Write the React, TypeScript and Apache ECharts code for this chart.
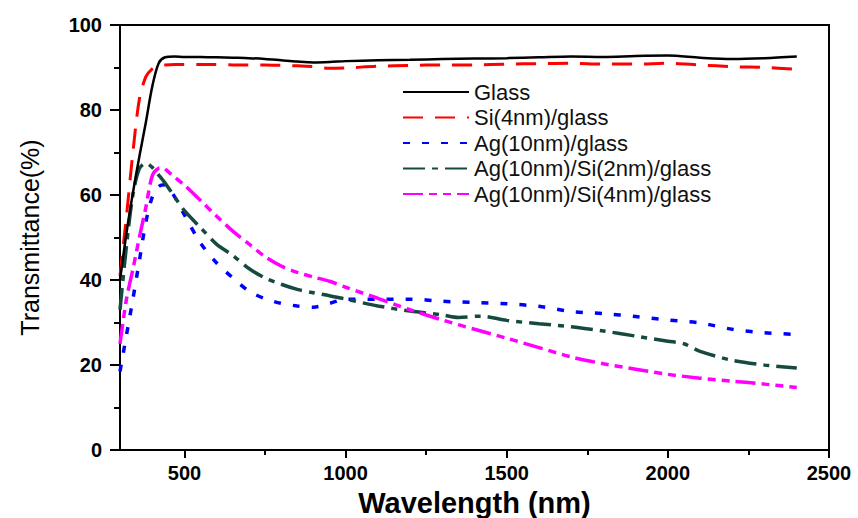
import React, { useEffect, useRef } from "react";
import * as echarts from "echarts";

const seriesNames = [
  "Glass",
  "Si(4nm)/glass",
  "Ag(10nm)/glass",
  "Ag(10nm)/Si(2nm)/glass",
  "Ag(10nm)/Si(4nm)/glass",
];

const xTickValues = [500, 1000, 1500, 2000, 2500];
const xMinorTickValues = [750, 1250, 1750, 2250];

const glassX = [300, 320, 340, 360, 380, 400, 420, 440, 470, 500, 550, 600, 650, 700, 750, 800, 850, 900, 950, 1000, 1100, 1200, 1300, 1400, 1500, 1600, 1700, 1800, 1900, 2000, 2100, 2200, 2300, 2400];
const glassT = [40, 51, 60.5, 69, 77, 85.5, 91, 92.4, 92.6, 92.5, 92.5, 92.4, 92.3, 92.2, 92.0, 91.7, 91.4, 91.2, 91.3, 91.5, 91.7, 91.8, 92.0, 92.1, 92.2, 92.4, 92.6, 92.5, 92.7, 92.8, 92.3, 92.0, 92.2, 92.6];

const siX = [300, 320, 340, 360, 380, 400, 420, 440, 470, 500, 550, 600, 650, 700, 750, 800, 850, 900, 950, 1000, 1100, 1200, 1300, 1400, 1500, 1600, 1700, 1800, 1900, 2000, 2100, 2200, 2300, 2400];
const siT = [41, 55, 70, 82.5, 87.8, 89.7, 90.4, 90.6, 90.7, 90.7, 90.7, 90.7, 90.6, 90.6, 90.6, 90.5, 90.4, 90.2, 89.8, 89.9, 90.3, 90.5, 90.6, 90.6, 90.8, 90.9, 91.0, 90.8, 90.8, 91.0, 90.6, 90.2, 90.0, 89.6];

const agX = [300, 320, 340, 360, 380, 400, 420, 440, 470, 500, 550, 600, 650, 700, 750, 800, 850, 900, 950, 1000, 1100, 1200, 1300, 1400, 1500, 1600, 1700, 1800, 1900, 2000, 2100, 2200, 2300, 2400];
const agT = [18.5, 27, 35.5, 44.5, 53.5, 59.5, 62, 62.4, 59.5, 55.3, 48.7, 44, 40.5, 37.4, 35.6, 34.5, 33.9, 33.6, 34.5, 35.5, 35.5, 35.5, 35.0, 34.7, 34.4, 33.8, 32.6, 32.1, 31.4, 30.6, 29.9, 28.4, 27.6, 27.2];

const agSi2X = [300, 320, 340, 360, 380, 400, 420, 440, 470, 500, 550, 600, 650, 700, 750, 800, 850, 900, 950, 1000, 1100, 1200, 1300, 1350, 1420, 1500, 1600, 1700, 1800, 1900, 2000, 2050, 2100, 2200, 2300, 2400];
const agSi2T = [33, 48, 60, 66.2, 67.5, 66.5, 64.7, 62.8, 59.5, 56.3, 52.3, 48.4, 45.8, 42.7, 40.5, 39.0, 37.8, 37.0, 36.3, 35.5, 33.9, 32.7, 31.8, 31.2, 31.5, 30.5, 29.7, 29.0, 28.0, 26.8, 25.6, 25.0, 23.2, 21.1, 20.0, 19.3];

const agSi4X = [300, 320, 340, 360, 380, 400, 420, 430, 460, 500, 550, 600, 650, 700, 750, 800, 850, 900, 950, 1000, 1100, 1200, 1300, 1400, 1500, 1600, 1700, 1800, 1900, 2000, 2100, 2200, 2300, 2400];
const agSi4T = [25, 35.5, 42.5, 50, 57, 64.5, 66.3, 66.4, 64.8, 62.3, 58.7, 55, 51.5, 48.5, 45.5, 43.3, 41.8, 40.7, 39.7, 38.3, 35.7, 33, 30.6, 28.4, 26.3, 24.1, 21.9, 20.3, 19, 17.8, 16.9, 16.2, 15.5, 14.7];

const FONT = "'Liberation Sans', Arial, Helvetica, sans-serif";

function pairs(xs: number[], ys: number[]) {
  return xs.map((x, i) => [x, ys[i]]);
}

export default function App() {
  const ref = useRef<HTMLDivElement>(null);

  useEffect(() => {
    if (!ref.current) return;
    const chart = echarts.init(ref.current, undefined, { renderer: "svg" });

    const lineSeries = (
      name: string,
      data: number[][],
      color: string,
      width: number,
      type: any,
      z: number
    ) => ({
      type: "line",
      name,
      data,
      xAxisIndex: 0,
      yAxisIndex: 0,
      symbol: "none",
      showSymbol: false,
      smooth: 0.3,
      z,
      lineStyle: { color, width, type, cap: "butt" },
      itemStyle: { color },
    });

    chart.setOption({
      animation: false,
      backgroundColor: "#ffffff",
      textStyle: { fontFamily: FONT },
      grid: [
        {
          left: 120,
          right: 29,
          top: 25,
          bottom: 68,
          containLabel: false,
          outerBoundsMode: "none",
          show: true,
          borderColor: "#000",
          borderWidth: 2,
          backgroundColor: "transparent",
        },
        {
          left: 120,
          right: 29,
          top: 25,
          bottom: 68,
          containLabel: false,
          outerBoundsMode: "none",
          show: false,
        },
      ],
      xAxis: [
        {
          type: "value",
          gridIndex: 0,
          min: 300,
          max: 2500,
          name: "Wavelength (nm)",
          nameLocation: "middle",
          nameGap: 38,
          nameTextStyle: {
            fontFamily: FONT,
            fontSize: 29,
            fontWeight: "bold",
            color: "#000",
          },
          axisLine: { show: true, lineStyle: { color: "#000", width: 2 } },
          axisTick: {
            show: true,
            customValues: xTickValues,
            length: 8,
            inside: false,
            lineStyle: { color: "#000", width: 2 },
          },
          axisLabel: {
            customValues: xTickValues,
            formatter: (v: number) => String(v),
            margin: 13,
            fontFamily: FONT,
            fontSize: 20,
            fontWeight: "bold",
            color: "#000",
          },
          splitLine: { show: false },
        },
        {
          type: "value",
          gridIndex: 1,
          min: 300,
          max: 2500,
          axisLine: { show: false },
          axisTick: {
            show: true,
            customValues: xMinorTickValues,
            length: 5,
            inside: false,
            lineStyle: { color: "#000", width: 2 },
          },
          axisLabel: { show: false },
          splitLine: { show: false },
        },
      ],
      yAxis: [
        {
          type: "value",
          gridIndex: 0,
          min: 0,
          max: 100,
          interval: 20,
          name: "Transmittance(%)",
          nameLocation: "middle",
          nameGap: 78,
          nameTextStyle: {
            fontFamily: FONT,
            fontSize: 25,
            color: "#000",
          },
          axisLine: { show: true, lineStyle: { color: "#000", width: 2 } },
          axisTick: {
            show: true,
            length: 10,
            inside: false,
            lineStyle: { color: "#000", width: 2 },
          },
          minorTick: {
            show: true,
            splitNumber: 2,
            length: 6,
            lineStyle: { color: "#000", width: 2 },
          },
          axisLabel: {
            margin: 18,
            fontFamily: FONT,
            fontSize: 20,
            fontWeight: "bold",
            color: "#000",
          },
          splitLine: { show: false },
          minorSplitLine: { show: false },
        },
        {
          type: "value",
          gridIndex: 1,
          min: 0,
          max: 100,
          show: false,
        },
      ],
      legend: {
        orient: "vertical",
        left: 402,
        top: 81,
        itemWidth: 66,
        itemHeight: 14,
        itemGap: 3.5,
        padding: 0,
        data: seriesNames,
        itemStyle: { opacity: 0 },
        textStyle: {
          fontFamily: FONT,
          fontSize: 22,
          color: "#111",
        },
      },
      series: [
        lineSeries(seriesNames[0], pairs(glassX, glassT), "#000000", 2.5, "solid", 5),
        lineSeries(seriesNames[1], pairs(siX, siT), "#ff0000", 3, [20, 12], 4),
        lineSeries(seriesNames[2], pairs(agX, agT), "#0000ff", 3.5, [7, 12], 3),
        lineSeries(seriesNames[3], pairs(agSi2X, agSi2T), "#164a40", 3.5, [22, 7, 6, 7], 3),
        lineSeries(seriesNames[4], pairs(agSi4X, agSi4T), "#ff00ff", 3.5, [20, 6, 8, 6, 8, 6], 3),
      ],
    });

    return () => {
      chart.dispose();
    };
  }, []);

  return (
    <div
      ref={ref}
      style={{ position: "absolute", left: 0, top: 0, width: 858, height: 518 }}
    />
  );
}
